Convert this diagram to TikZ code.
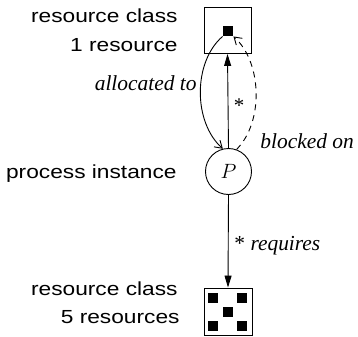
\documentclass[tikz,border=0pt]{standalone}
\usepackage{fontspec}
\setmainfont{Liberation Serif}
\newfontfamily\labsf[FakeStretch=1.2]{Liberation Sans}
\usetikzlibrary{arrows.meta}
\tikzset{
  sflabel/.style={inner sep=0pt, anchor=base east, font=\fontsize{19}{19}\selectfont\labsf},
  itlabel/.style={inner sep=0pt, font=\fontsize{21.5}{21.5}\selectfont\itshape},
  classbox/.style={draw, inner sep=0pt, minimum width=47bp, minimum height=46bp},
  resdot/.style={fill, inner sep=0pt, minimum size=10bp},
  procnode/.style={draw, circle, inner sep=0pt, minimum size=46bp, font=\fontsize{21}{21}\selectfont\itshape},
  fillarrow/.style={-{Triangle[length=12bp,width=7bp]}},
  openarrow/.style={-{Straight Barb[length=7bp,width=9bp]}},
}
\begin{document}
\begin{tikzpicture}[x=1bp,y=-1bp, line width=0.9bp]
\useasboundingbox (0,0) rectangle (358,337);
% top resource class
\node[classbox] (rc1) at (227.5,30.5) {};
\node[resdot] (dot) at (228,31) {};
\node[sflabel] (t1) at (178,22.5) {resource class};
\node[sflabel] (t2) at (178,51) {1 resource};
% process
\node[procnode] (P) at (228.5,171.5) {$P$};
\node[sflabel] (t3) at (177,178) {process instance};
% bottom resource class
\node[classbox, minimum width=48bp, minimum height=47bp] (rc5) at (228,311.5) {};
\node[resdot] (s1) at (213,298) {};
\node[resdot] (s2) at (242,298) {};
\node[resdot] (s3) at (228,312) {};
\node[resdot] (s4) at (213,326) {};
\node[resdot] (s5) at (242,326) {};
\node[sflabel] (t4) at (178,295.5) {resource class};
\node[sflabel] (t5) at (180,323.5) {5 resources};
% connectors
\draw[fillarrow] (P.north) -- (rc1.south);
\draw[fillarrow] (P.south) -- (rc5.north);
\draw[openarrow] (dot.south west) .. controls (193,62) and (193,122) .. (P.104);
\draw[openarrow, dashed, dash pattern=on 6bp off 5bp] (P.70) .. controls (264,122) and (262,62) .. (dot.south east);
% labels
\node[itlabel, anchor=base east] (l1) at (197,90.5) {allocated to};
\node[inner sep=0pt, font=\fontsize{21}{21}\selectfont] (l2) at (239,106) {*};
\node[itlabel, anchor=base west] (l3) at (260,148) {blocked on};
\node[itlabel, anchor=base west] (l4) at (234,250) {{\upshape *} requires};
\end{tikzpicture}
\end{document}
